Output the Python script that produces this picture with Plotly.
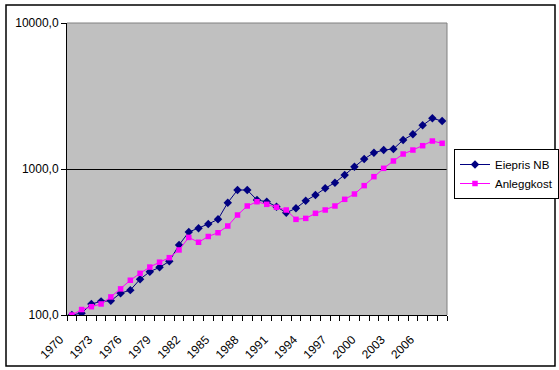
import plotly.graph_objects as go

years = list(range(1970, 2009))
eiepris_nb = [100, 103, 119, 124, 125, 141, 148, 176, 198, 212, 233, 302, 370,
              393, 420, 452, 588, 718, 718, 613, 597, 552, 502, 538, 606, 663,
              738, 806, 910, 1037, 1171, 1293, 1349, 1371, 1580, 1728, 1992, 2225, 2131]
anleggkost = [100, 109, 114, 119, 133, 151, 173, 193, 213, 230, 247, 279, 340,
              315, 345, 366, 407, 484, 558, 597, 573, 547, 524, 452, 459, 497,
              524, 558, 620, 674, 769, 886, 1011, 1135, 1267, 1349, 1444, 1555, 1500]
x_tick_years = list(range(1970, 2009, 3))
x_tick_labels = [str(y) for y in x_tick_years]
y_tick_vals = [100, 1000, 10000]
y_tick_labels = ["100,0", "1000,0", "10000,0"]

FONT = "Arial, Liberation Sans, sans-serif"

fig = go.Figure()
fig.add_trace(go.Scatter(
    x=years, y=eiepris_nb, name="Eiepris NB", mode="lines+markers",
    line=dict(color="#000080", width=1),
    marker=dict(symbol="diamond", size=6.5, color="#000080"),
))
fig.add_trace(go.Scatter(
    x=years, y=anleggkost, name="Anleggkost", mode="lines+markers",
    line=dict(color="#FF00FF", width=1),
    marker=dict(symbol="square", size=5.5, color="#FF00FF"),
))

L, R, T, B = 67, 447, 23, 315
W, H = 559, 370
pw, ph = R - L, B - T

def px(x):
    return (x - L) / pw

def py(y):
    return (B - y) / ph

fig.update_layout(
    width=W, height=H, autosize=False,
    margin=dict(l=L, r=W - R, t=T, b=H - B, pad=0, autoexpand=False),
    paper_bgcolor="white", plot_bgcolor="#C0C0C0",
    font=dict(family=FONT, size=12, color="black"),
    hovermode=False,
    showlegend=True,
    legend=dict(
        x=px(454), y=py(149), xanchor="left", yanchor="top",
        bgcolor="white", bordercolor="black", borderwidth=1,
        font=dict(family=FONT, size=11.5, color="black"),
        itemwidth=30, tracegroupgap=0,
    ),
    xaxis=dict(
        range=[1969.5, 2008.5], showgrid=False, zeroline=False, automargin=False,
        tickmode="array", tickvals=x_tick_years, ticktext=x_tick_labels,
        tickangle=-45, ticks="", showline=True, linecolor="black", linewidth=1,
        ticklabelstandoff=12, ticklabelshift=-12,
        tickfont=dict(family=FONT, size=12, color="black"),
        minor=dict(tick0=1969.5, dtick=1, ticks="outside", ticklen=5,
                   tickcolor="black", tickwidth=1, showgrid=False),
    ),
    yaxis=dict(
        type="log", range=[2, 4], tickmode="array", automargin=False,
        tickvals=y_tick_vals, ticktext=y_tick_labels,
        ticks="outside", ticklen=5, tickcolor="black",
        showgrid=True, gridcolor="black", gridwidth=1, zeroline=False,
        showline=True, linecolor="black", linewidth=1,
        tickfont=dict(family=FONT, size=12, color="black"),
    ),
    shapes=[
        dict(type="line", xref="paper", yref="paper", x0=0, x1=1, y0=1, y1=1,
             line=dict(color="#808080", width=1), layer="above"),
        dict(type="line", xref="paper", yref="paper", x0=1, x1=1, y0=0, y1=1,
             line=dict(color="#808080", width=1), layer="above"),
        dict(type="rect", xref="paper", yref="paper",
             x0=px(6), x1=px(555), y0=py(366), y1=py(5),
             line=dict(color="black", width=1.5), layer="above"),
    ],
)

fig.write_html(
    "out.html",
    config={"displayModeBar": False},
    post_script="document.body.style.margin='0';document.body.style.overflow='hidden';",
)
